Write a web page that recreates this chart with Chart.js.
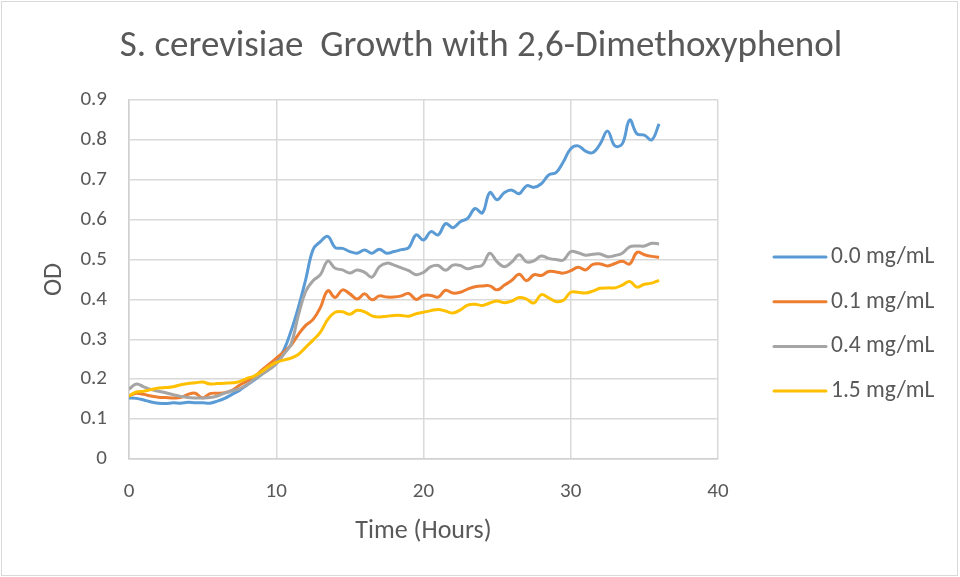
<!DOCTYPE html>
<html>
<head>
<meta charset="utf-8">
<script src="https://cdn.jsdelivr.net/npm/chart.js@4/dist/chart.umd.min.js"></script>
<style>
  html, body { margin: 0; padding: 0; background: #fff; }
  #wrap { width: 960px; height: 577px; position: relative; }
</style>
</head>
<body>
<div id="wrap"><canvas id="chart-growth" width="960" height="577"></canvas></div>
<script>
const chartTitle = 'S. cerevisiae  Growth with 2,6-Dimethoxyphenol';
const seriesLabels = ['0.0 mg/mL', '0.1 mg/mL', '0.4 mg/mL', '1.5 mg/mL'];
const seriesColors = ['#5B9BD5', '#ED7D31', '#A5A5A5', '#FFC000'];

// sampling time, hours
const hours = [
    0, 0.5, 1, 1.5, 2, 2.5, 3, 3.5, 4, 4.5, 5, 5.5, 6, 6.5, 7, 7.5, 8, 8.5, 9, 9.5,
    10, 10.5, 11, 11.5, 12, 12.5, 13, 13.5, 14, 14.5, 15, 15.5, 16, 16.5, 17, 17.5, 18, 18.5, 19, 19.5,
    20, 20.5, 21, 21.5, 22, 22.5, 23, 23.5, 24, 24.5, 25, 25.5, 26, 26.5, 27, 27.5, 28, 28.5, 29, 29.5,
    30, 30.5, 31, 31.5, 32, 32.5, 33, 33.5, 34, 34.5, 35, 35.5, 36
];

// OD readings per concentration
const od00 = [
    0.153, 0.152, 0.148, 0.143, 0.140, 0.139, 0.141, 0.140, 0.142, 0.141, 0.141, 0.140, 0.145, 0.152, 0.162, 0.172, 0.185, 0.198, 0.212, 0.226,
    0.243, 0.272, 0.320, 0.380, 0.450, 0.525, 0.545, 0.558, 0.530, 0.528, 0.520, 0.516, 0.524, 0.516, 0.526, 0.516, 0.520, 0.525, 0.530, 0.562,
    0.549, 0.570, 0.562, 0.590, 0.580, 0.595, 0.603, 0.628, 0.617, 0.668, 0.650, 0.668, 0.674, 0.665, 0.685, 0.681, 0.690, 0.712, 0.718, 0.745,
    0.778, 0.785, 0.772, 0.768, 0.790, 0.822, 0.785, 0.790, 0.850, 0.815, 0.812, 0.800, 0.840
];
const od01 = [
    0.158, 0.165, 0.162, 0.158, 0.155, 0.154, 0.153, 0.154, 0.162, 0.165, 0.153, 0.164, 0.165, 0.166, 0.172, 0.185, 0.195, 0.205, 0.222, 0.237,
    0.253, 0.268, 0.285, 0.312, 0.335, 0.350, 0.380, 0.422, 0.405, 0.424, 0.414, 0.401, 0.414, 0.399, 0.409, 0.406, 0.406, 0.409, 0.415, 0.400,
    0.410, 0.410, 0.406, 0.423, 0.416, 0.418, 0.426, 0.432, 0.434, 0.434, 0.424, 0.436, 0.448, 0.463, 0.447, 0.462, 0.460, 0.470, 0.469, 0.466,
    0.472, 0.481, 0.474, 0.488, 0.489, 0.484, 0.490, 0.496, 0.489, 0.518, 0.512, 0.508, 0.506
];
const od04 = [
    0.175, 0.188, 0.181, 0.174, 0.170, 0.166, 0.161, 0.157, 0.154, 0.153, 0.153, 0.154, 0.158, 0.165, 0.171, 0.176, 0.186, 0.200, 0.212, 0.224,
    0.238, 0.262, 0.288, 0.360, 0.420, 0.447, 0.462, 0.496, 0.478, 0.474, 0.466, 0.474, 0.468, 0.456, 0.482, 0.491, 0.486, 0.479, 0.472, 0.462,
    0.468, 0.482, 0.485, 0.473, 0.486, 0.485, 0.477, 0.482, 0.486, 0.516, 0.494, 0.482, 0.494, 0.512, 0.494, 0.497, 0.509, 0.503, 0.500, 0.499,
    0.520, 0.517, 0.511, 0.513, 0.514, 0.507, 0.510, 0.516, 0.532, 0.534, 0.534, 0.541, 0.539
];
const od15 = [
    0.158, 0.168, 0.170, 0.174, 0.178, 0.179, 0.181, 0.186, 0.189, 0.191, 0.193, 0.188, 0.189, 0.190, 0.191, 0.194, 0.202, 0.208, 0.219, 0.232,
    0.242, 0.248, 0.253, 0.262, 0.280, 0.298, 0.318, 0.350, 0.368, 0.369, 0.363, 0.373, 0.369, 0.359, 0.356, 0.358, 0.360, 0.360, 0.358, 0.364,
    0.368, 0.372, 0.375, 0.371, 0.366, 0.374, 0.386, 0.388, 0.385, 0.391, 0.396, 0.392, 0.396, 0.405, 0.401, 0.391, 0.412, 0.404, 0.395, 0.398,
    0.418, 0.418, 0.416, 0.421, 0.428, 0.429, 0.429, 0.436, 0.445, 0.431, 0.438, 0.441, 0.448
];
const seriesValues = [od00, od01, od04, od15];

const textColor = '#595959';
const fontFamily = "Carlito, Lato, 'Open Sans', sans-serif";

// title, legend and outer frame are painted by hand
const frameAndLegend = {
    id: 'frameAndLegend',
    beforeDraw(chart) {
        const ctx = chart.ctx;
        ctx.save();
        ctx.fillStyle = '#fff';
        ctx.fillRect(0, 0, chart.width, chart.height);
        ctx.strokeStyle = '#d9d9d9';
        ctx.lineWidth = 1;
        ctx.strokeRect(1.5, 1.5, chart.width - 4, chart.height - 3);
        ctx.restore();
    },
    afterDraw(chart) {
        const ctx = chart.ctx;
        ctx.save();
        ctx.fillStyle = textColor;
        ctx.textAlign = 'center';
        ctx.textBaseline = 'middle';
        ctx.font = `37px ${fontFamily}`;
        ctx.fillText(chartTitle, 481, 47);

        ctx.font = `23.5px ${fontFamily}`;
        ctx.textAlign = 'left';
        chart.data.datasets.forEach((ds, i) => {
            const y = 257 + i * 44.7;
            ctx.strokeStyle = ds.borderColor;
            ctx.lineWidth = 3;
            ctx.lineCap = 'round';
            ctx.beginPath();
            ctx.moveTo(774, y);
            ctx.lineTo(826, y);
            ctx.stroke();
            ctx.fillText(ds.label, 831, y);
        });
        ctx.restore();
    }
};

new Chart(document.getElementById('chart-growth'), {
    type: 'line',
    data: {
        datasets: seriesLabels.map((label, i) => ({
            label: label,
            data: hours.map((h, j) => ({x: h, y: seriesValues[i][j]})),
            borderColor: seriesColors[i],
            backgroundColor: seriesColors[i],
            borderWidth: 3,
            pointRadius: 0,
            tension: 0.4,
            fill: false,
            order: seriesLabels.length - i
        }))
    },
    options: {
        responsive: false,
        animation: false,
        devicePixelRatio: 1,
        layout: { padding: { left: 0, right: 242, top: 100, bottom: 0 } },
        plugins: {
            legend: { display: false },
            title: { display: false },
            tooltip: { enabled: false }
        },
        scales: {
            x: {
                type: 'linear',
                min: 0,
                max: 40,
                afterFit: scale => { scale.height = 118; },
                ticks: {
                    stepSize: 10,
                    color: textColor,
                    font: { family: fontFamily, size: 21 },
                    padding: 20,
                    maxRotation: 0
                },
                grid: { color: '#d9d9d9', lineWidth: 1.5, drawTicks: false },
                border: { color: '#d0d0d0', width: 1.5 },
                title: {
                    display: true,
                    text: 'Time (Hours)',
                    color: textColor,
                    font: { family: fontFamily, size: 26 },
                    padding: { top: 0, bottom: 30 }
                }
            },
            y: {
                min: 0,
                max: 0.9,
                afterFit: scale => { scale.width = 129; },
                ticks: {
                    stepSize: 0.1,
                    color: textColor,
                    font: { family: fontFamily, size: 21 },
                    padding: 22,
                    callback: v => v === 0 ? '0' : v.toFixed(1)
                },
                grid: { color: '#d9d9d9', lineWidth: 1.5, drawTicks: false },
                border: { color: '#d0d0d0', width: 1.5 },
                title: {
                    display: true,
                    text: 'OD',
                    color: textColor,
                    font: { family: fontFamily, size: 26 },
                    padding: { top: 39, bottom: 0 }
                }
            }
        }
    },
    plugins: [frameAndLegend]
});
</script>
</body>
</html>
